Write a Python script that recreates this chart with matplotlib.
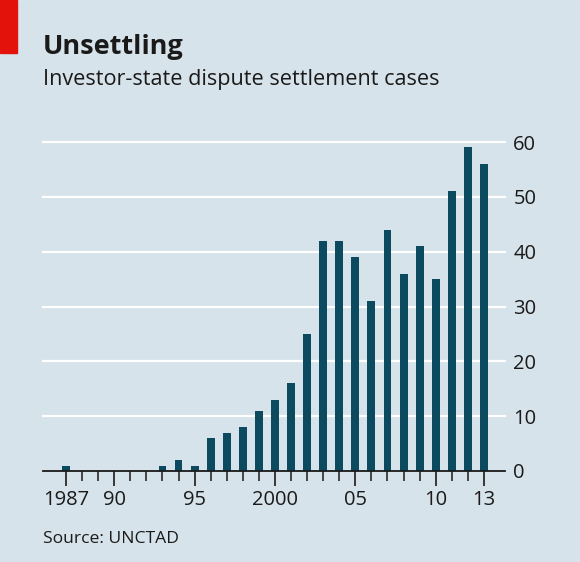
import matplotlib.pyplot as plt
import matplotlib.patches as mpatches

# cases per year
years = list(range(1987, 2014))
cases = [1, 0, 0, 0, 0, 0, 1, 2, 1, 6, 7, 8, 11, 13, 16, 25,
         42, 42, 39, 31, 44, 36, 41, 35, 51, 59, 56]
major_years = [1987, 1990, 1995, 2000, 2005, 2010, 2013]
major_labels = ['1987', '90', '95', '2000', '05', '10', '13']
yticks = [0, 10, 20, 30, 40, 50, 60]

bg = '#d7e3ea'
bar_col = '#0c4a60'
txt = '#1a1a1a'

plt.rcParams['font.family'] = ['Open Sans', 'DejaVu Sans']

fig = plt.figure(figsize=(5.8, 5.62), dpi=100, facecolor=bg)
ax = fig.add_axes([43/580, (562-471)/562, (505-43)/580, (471-142)/562])
ax.set_facecolor(bg)

ax.bar(years, cases, width=0.49, color=bar_col, zorder=3)

ax.set_xlim(1985.57, 2014.31)
ax.set_ylim(0, 60)
for s in ax.spines.values():
    s.set_visible(False)
ax.axhline(0, color=txt, lw=1.3, zorder=4, clip_on=False)
for v in yticks[1:]:
    ax.axhline(v, color='white', lw=1.6, zorder=1, clip_on=False)

ax.yaxis.tick_right()
ax.set_yticks(yticks)
ax.set_yticklabels([str(v) for v in yticks], fontsize=14.5, color=txt)
ax.tick_params(axis='y', length=0, pad=6)

ax.set_xticks(major_years)
ax.set_xticklabels(major_labels, fontsize=14.5, color=txt)
ax.set_xticks(years, minor=True)
ax.tick_params(axis='x', which='major', length=11, width=1.2, color=txt, pad=3)
ax.tick_params(axis='x', which='minor', length=7, width=1.1, color=txt)

fig.patches.append(mpatches.Rectangle((0, 1 - 53/562), 17/580, 53/562,
                                      transform=fig.transFigure, color='#e3120b'))
fig.text(43/580, 1 - 54/562, 'Unsettling', fontsize=19.5, fontweight='bold',
         color=txt, va='baseline')
fig.text(43/580, 1 - 85/562, 'Investor-state dispute settlement cases',
         fontsize=15.6, color=txt, va='baseline')
fig.text(43/580, 1 - 543/562, 'Source: UNCTAD', fontsize=12.6, color=txt,
         va='baseline')

fig.savefig('out.png', dpi=100, facecolor=bg)
